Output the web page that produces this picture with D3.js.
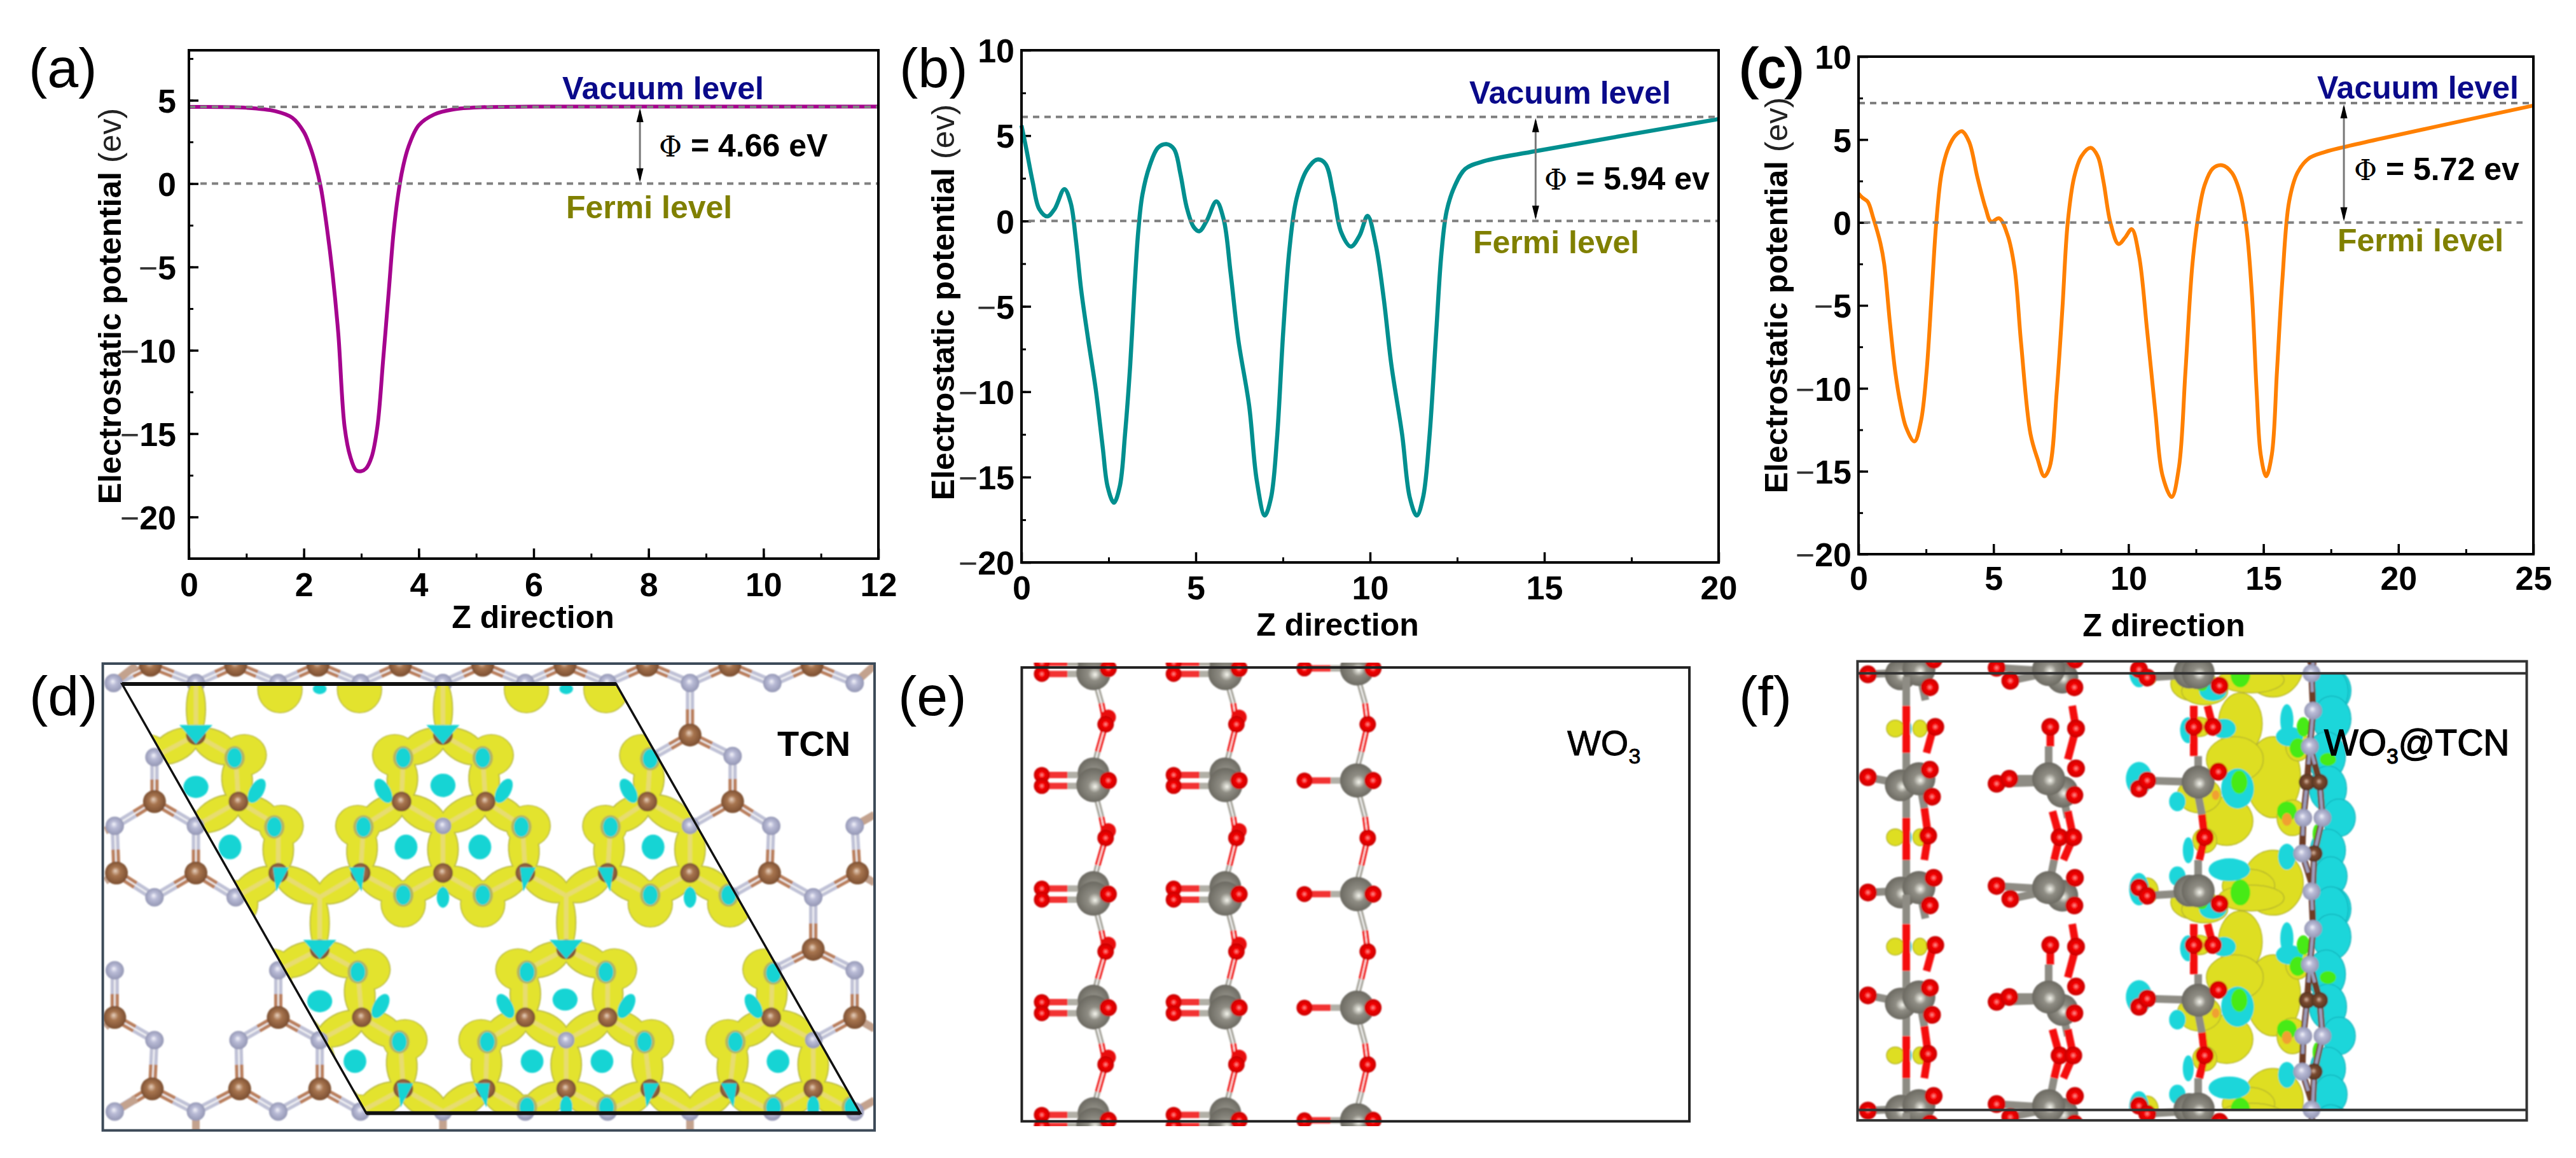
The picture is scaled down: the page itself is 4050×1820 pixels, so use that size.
<!DOCTYPE html>
<html><head><meta charset="utf-8">
<script src="https://cdnjs.cloudflare.com/ajax/libs/d3/7.8.5/d3.min.js"></script>
<style>
html,body{margin:0;padding:0;background:#fff}
svg{display:block}
text{font-family:"Liberation Sans",Arial,sans-serif}
.tick text{font-weight:700;fill:#000}
</style></head><body><svg id="c" width="4050" height="1820"></svg>
<script>
// ---------- curve values ----------
const zA=[0,1,1.5,1.8,2,2.1,2.2,2.3,2.4,2.5,2.6,2.71,2.81,2.91,3,3.08,3.18,3.28,3.38,3.48,3.56,3.64,3.72,3.82,4,4.27,4.6,5.1,6,8,10,12];
const vA=[4.6,4.55,4.35,3.95,3.1,2.3,1.2,-0.3,-2.6,-5.4,-9,-14.6,-16.4,-17.2,-17.25,-17.1,-16.4,-14.6,-10.6,-6.4,-3,-0.7,0.9,2.2,3.5,4.15,4.45,4.58,4.62,4.62,4.62,4.62];
const zB=[0,.14,.32,.51,.74,.95,1.23,1.41,1.56,1.71,1.91,2.13,2.33,2.47,2.65,2.82,2.97,3.12,3.24,3.35,3.47,3.68,3.92,4.16,4.38,4.56,4.74,4.94,5.1,5.31,5.59,5.8,6,6.22,6.53,6.75,6.98,7.16,7.33,7.51,7.69,7.89,8.19,8.49,8.72,8.95,9.17,9.45,9.7,9.93,10.16,10.39,10.61,10.92,11.14,11.34,11.52,11.7,11.9,12.05,12.2,12.43,12.73,13.26,14.78,20];
const vB=[5.6,4.2,2.3,.7,.27,.7,1.87,1.07,-1.1,-4,-6.9,-9.85,-13.25,-15.55,-16.5,-15.55,-12.5,-8.4,-4,-.6,1.55,3.25,4.3,4.5,4.2,2.75,.8,-.35,-.6,0,1.15,.1,-3.05,-6.95,-10.8,-15.2,-17.25,-16.2,-12.75,-6.45,-1.6,1.3,3,3.6,3.35,1.55,-.65,-1.5,-.85,.3,-1.35,-4.5,-8.4,-12.5,-16.2,-17.25,-16.2,-12.75,-6.45,-1.85,.6,2.05,3.05,3.5,4.1,5.97];
const zC=[0,.14,.34,.55,.81,.95,1.16,1.36,1.56,1.76,2.07,2.31,2.52,2.72,2.88,3.08,3.33,3.59,3.83,4.1,4.4,4.71,4.91,5.21,5.52,5.78,6.02,6.37,6.63,6.88,7.08,7.34,7.55,7.75,7.99,8.26,8.6,8.86,9.07,9.33,9.63,9.88,10.12,10.39,10.69,11,11.26,11.6,11.87,12.11,12.37,12.62,12.82,13.12,13.47,13.83,14.14,14.38,14.58,14.75,14.9,15.1,15.31,15.5,15.7,15.95,16.26,16.67,17.28,17.99,25];
const vC=[1.75,1.5,1.25,.25,-1.25,-2.5,-6,-9,-11,-12.35,-13.2,-12,-9,-4,0,3,4.5,5.25,5.5,4.85,2.75,.85,.05,.25,-.75,-2.75,-7.25,-12.75,-14.25,-15.3,-14.75,-10.25,-5.25,0,2.75,4,4.5,4,2.5,0,-1.3,-.9,-.4,-2,-6.5,-11.5,-15.25,-16.55,-14.75,-9,-2.5,.75,2.25,3.25,3.45,3,1.75,-.5,-4.5,-10.25,-14,-15.3,-14,-9,-3.5,1.25,3,3.85,4.25,4.55,7.05];
const xTicksA=[0,2,4,6,8,10,12], xTicksB=[0,5,10,15,20], xTicksC=[0,5,10,15,20,25];
const yTicksA=[5,0,-5,-10,-15,-20], yTicksBC=[10,5,0,-5,-10,-15,-20];
const workFn=["Φ = 4.66 eV","Φ = 5.94 ev","Φ = 5.72 ev"];
const panelLetters=["(a)","(b)","(c)","(d)","(e)","(f)"];
const levelNames=["Vacuum level","Fermi level"];
// ---------- structure tables: positions, in its own image units ----------
const cAtoms=[[265,50],[415,50],[560,50],[705,50],[850,50],[995,50],[1140,50],[1285,50],[1430,50],[345,265],[780,265],[1215,265],[272,470],[420,470],[707,470],[855,470],[1140,470],[1290,470],[205,690],[345,690],[490,690],[635,690],[780,690],[925,690],[1070,690],[1215,690],[1355,690],[1510,690],[563,925],[997,925],[1432,925],[202,1135],[490,1135],[637,1135],[925,1135],[1070,1135],[1358,1135],[1505,1135],[268,1355],[422,1355],[563,1355],[710,1355],[855,1355],[997,1355],[1145,1355],[1285,1355],[1432,1355]];
const nAtoms=[[200,105],[345,105],[490,105],[635,105],[780,105],[925,105],[1070,105],[1215,105],[1360,105],[1505,105],[272,333],[415,335],[710,335],[850,335],[1145,335],[1290,330],[202,545],[345,545],[490,545],[640,545],[780,545],[920,545],[1075,545],[1215,545],[1358,545],[1505,545],[272,765],[415,765],[563,765],[710,760],[850,760],[997,760],[1145,760],[1285,760],[1432,765],[202,990],[490,990],[630,990],[925,990],[1070,990],[1360,990],[1505,990],[272,1205],[420,1205],[563,1205],[705,1205],[858,1205],[997,1205],[1135,1205],[1295,1205],[1432,1205],[202,1425],[345,1425],[490,1425],[635,1425],[780,1425],[925,1425],[1070,1425],[1215,1425],[1360,1425],[1505,1425]];
const stubBonds=[[345,1425,345,1500],[780,1425,780,1500],[1215,1425,1215,1500],[200,105,240,50],[1505,105,1540,50],[202,545,185,560],[1505,545,1540,510],[205,690,185,715],[1510,690,1540,720],[202,1135,185,1165],[1505,1135,1540,1170],[202,1425,240,1385],[1505,1425,1540,1390]];
const cellCorners=[[215,108],[1085,108],[1515,1430],[645,1430]];
const bridgeN=["345,105","780,105","1215,105","563,765","997,760"];
const clusterCentres=[[345,545],[780,545],[1215,545],[563,1205],[997,1205],[1432,1205],[563,-115],[997,-115]];
const lobeOffsets=[[-85,-218,38,62],[85,-218,38,62],[-150,0,38,62],[150,0,38,62],[-70,240,38,70],[70,240,38,70]];
const ringCyan=[[345,425,22,34],[405,610,20,38],[780,420,22,36],[715,610,20,38],[845,610,20,38],[1150,610,20,38],[995,1080,22,34],[563,1085,22,34],[625,1270,20,36],[937,1270,20,36],[1060,1270,20,36],[1370,1270,20,36]];
const nearCyan=[[413,335],[710,335],[850,335],[1145,338],[483,548],[640,548],[918,548],[1075,548],[710,758],[850,758],[1145,758],[1283,758],[630,995],[928,995],[1067,995],[1362,998],[703,1210],[858,1210],[1135,1210],[1295,1210],[928,1412],[1068,1412],[1362,1412],[1500,1412]];
const leafCyan=[[452,437,30],[675,437,-30],[887,437,30],[1107,437,-30],[670,1100,30],[890,1100,-30],[1103,1100,30],[1327,1100,-30]];
const barCyan=[[780,765],[1215,765],[997,1410],[1432,1410]];
const wedgeCyan=[[345,250],[780,250],[563,912],[997,912]];
const sideWedge=[[493,700,1],[630,700,-1],[928,700,1],[1068,700,-1],[712,1365,1],[850,1365,-1],[1145,1365,1],[1285,1365,-1]];
const topCyan=[[563,123,12,16],[997,123,12,16]];
// panel e
const wo3Rows=[60,405,755,1105,1452], wo3Mid=[232,582,932,1280];
const wo3Cols=[[287,385,413,408,true],[537,635,661,656,true],[785,885,915,905,false]];
// panel f: one period, repeated
const fOffsets=[-672,0,672];
const fYellow=[[1015,395,50,125],[955,230,40,95],[945,340,52,70],[930,530,48,75],[1015,720,55,100],[970,730,48,52],[880,450,40,55],[870,780,42,52],[890,130,42,42],[1050,520,28,55],[1060,300,22,45],[325,245,16,26],[370,245,13,26],[325,580,16,26],[370,580,13,26],[770,420,18,30],[785,745,20,40],[880,240,22,30],[890,590,22,38],[975,95,60,40]];
const fCyan=[[950,430,30,62],[770,400,24,52],[935,680,38,35],[860,250,15,40],[925,245,22,30],[860,620,10,40],[1045,270,25,30],[1040,220,12,50],[770,740,18,50],[1040,640,16,40],[840,470,15,30],[840,700,15,30],[905,130,25,30],[347,245,8,25],[347,580,8,25]];
const fGreen=[[953,410,15,36],[1070,240,12,30],[1115,340,15,20],[1060,305,15,30],[955,750,18,40],[885,785,10,15],[885,115,10,15],[1095,570,8,30],[1040,500,18,30]];
const fOrange=[[1040,525,9,20],[880,240,9,15],[910,450,7,15],[885,580,9,15]];
const fBand=[[1120,130,32,70],[1122,215,35,70],[1112,330,35,75],[1115,430,34,70],[1135,520,30,58],[1115,620,32,65],[1120,700,30,60],[1125,800,32,65]];
const fW=[[335,420,true],[368,400,false],[335,750,true],[368,735,false],[630,440,true],[605,400,false],[630,760,true],[605,735,false],[878,410,false],[862,745,true],[878,745,false]];
const fO=[[275,395],[388,372],[392,455],[398,240],[385,575],[275,750],[395,705],[388,790],[510,415],[533,400],[655,368],[652,450],[608,240],[655,245],[625,580],[650,580],[510,730],[535,770],[653,705],[652,790],[770,430],[785,405],[915,378],[770,735],[785,760],[917,785],[870,240],[905,240],[890,580]];
const fRed=[[345,175,345,320],[345,520,345,650],[378,490,385,575],[385,575,378,650],[395,240,382,320],[608,240,608,300],[648,175,655,245],[655,245,640,340],[612,500,625,580],[625,580,615,650],[640,500,650,580],[650,580,632,650],[870,175,870,330],[895,175,905,240],[885,510,890,580],[890,580,880,650]];
const fGrey=[[345,85,345,175],[345,320,345,420],[345,420,345,520],[345,650,345,750],[368,400,378,490],[368,735,380,830],[275,395,335,415],[275,750,335,745],[605,300,605,400],[615,650,605,735],[630,440,640,520],[510,415,605,410],[533,400,605,400],[510,730,605,740],[535,770,605,745],[785,405,878,410],[785,760,878,750],[878,450,885,510],[878,330,878,410],[878,650,878,745]];
const fTcnN=[[1085,75],[1088,190],[1082,300],[1070,520],[1105,520],[1068,630]];
const fTcnC=[[1077,410],[1100,410],[1090,630]];
const fTcnStrand=[[1085,75,1088,190],[1088,190,1082,300],[1082,300,1077,410],[1077,410,1070,520],[1082,300,1100,410],[1100,410,1105,520],[1070,520,1068,630],[1105,520,1090,630],[1068,630,1090,747],[1090,630,1087,747]];

// ---------- page set-up ----------
const svg=d3.select("#c");
const defs=svg.append("defs");
function sphere(id,hi,mid,rim,fx,fy){const g=defs.append("radialGradient").attr("id",id).attr("fx",fx).attr("fy",fy).attr("cx",.5).attr("cy",.5).attr("r",.55);
  g.append("stop").attr("offset",0).attr("stop-color",hi);g.append("stop").attr("offset",.35).attr("stop-color",mid);g.append("stop").attr("offset",1).attr("stop-color",rim);}
sphere("gN","#f4f4fb","#b9bbd6","#8f92b0",.45,.4);
sphere("gC","#e8d2c0","#a8754f","#75492c",.45,.4);
sphere("gW","#f6f6ee","#8f8d84","#66645c",.55,.55);
sphere("gO","#ff9a9a","#f40000","#c00000",.5,.5);
sphere("gC2","#d8b8a4","#7a4a30","#50301e",.45,.45);
defs.append("filter").attr("id","soft").append("feGaussianBlur").attr("stdDeviation",1.3);

const LW=4;
function linePanel(o){
  const g=svg.append("g");
  const x=d3.scaleLinear().domain(o.xd).range([o.L,o.R]);
  const y=d3.scaleLinear().domain(o.yd).range([o.B,o.T]);
  const fmt=v=>String(v).replace("-","\u2212");
  const ax=g.append("g").attr("transform",`translate(0,${o.B})`)
    .call(d3.axisBottom(x).tickValues(o.xt).tickSize(0).tickPadding(0).tickFormat(fmt));
  ax.selectAll("text").attr("dy",null).attr("y",o.xLab-o.B).style("font-size","52px");
  const xMin=o.xt.slice(0,-1).flatMap((v,i)=>[v,(v+o.xt[i+1])/2]).concat([o.xt[o.xt.length-1]]);
  g.append("g").attr("transform",`translate(0,${o.B})`).call(d3.axisTop(x).tickValues(xMin).tickSize(8).tickFormat(""))
   .call(s=>{s.select(".domain").remove();s.selectAll("line").attr("stroke-width",3)});
  g.append("g").attr("transform",`translate(0,${o.B})`).call(d3.axisTop(x).tickValues(o.xt).tickSize(16).tickFormat(""))
   .call(s=>{s.select(".domain").remove();s.selectAll("line").attr("stroke-width",3.5)});
  const ay=g.append("g").attr("transform",`translate(${o.L},0)`)
    .call(d3.axisLeft(y).tickValues(o.yt).tickSize(0).tickPadding(o.L-o.yLab).tickFormat(fmt));
  ay.selectAll("text").style("font-size","52px").attr("dy","0.36em")
    .each(function(){const s=d3.select(this),t=s.text();
      if(t[0]==="\u2212"){s.text(null);s.append("tspan").attr("font-weight",400).attr("fill","#333").text("\u2212");s.append("tspan").text(t.slice(1));}});
  const yMin=d3.range(o.yd[0],o.yd[1]+.01,2.5).filter(v=>v>=o.yd[0]);
  g.append("g").attr("transform",`translate(${o.L},0)`).call(d3.axisRight(y).tickValues(yMin).tickSize(7).tickFormat(""))
   .call(s=>{s.select(".domain").remove();s.selectAll("line").attr("stroke-width",3)});
  g.append("g").attr("transform",`translate(${o.L},0)`).call(d3.axisRight(y).tickValues(o.yt).tickSize(15).tickFormat(""))
   .call(s=>{s.select(".domain").remove();s.selectAll("line").attr("stroke-width",3.5)});
  g.selectAll(".domain").remove();
  const dash=(v,a,b)=>g.append("line").attr("x1",x(a)).attr("x2",x(b)).attr("y1",y(v)).attr("y2",y(v))
    .attr("stroke","#808080").attr("stroke-width",4).attr("stroke-dasharray","10 8");
  const line=d3.line().x((d,i)=>x(o.zs[i])).y(d=>y(d)).curve(d3.curveCatmullRom.alpha(.5));
  g.append("path").datum(o.vs).attr("d",line).attr("fill","none").attr("stroke",o.col).attr("stroke-width",o.w).attr("stroke-linejoin","round");
  dash(o.vac,o.xd[0],o.xd[1]);
  dash(0,o.z0,o.z1);
  g.append("line").attr("x1",x(o.ax)).attr("x2",x(o.ax)).attr("y1",y(o.vac)+6).attr("y2",y(0)-6).attr("stroke","#777").attr("stroke-width",3);
  [[y(o.vac)+2,1],[y(0)-2,-1]].forEach(([p,d])=>g.append("path")
    .attr("d",`M${x(o.ax)},${p} l-5.5,${d*22} h11 z`).attr("fill","#000"));
  g.append("rect").attr("x",o.L).attr("y",o.T).attr("width",o.R-o.L).attr("height",o.B-o.T).attr("fill","none").attr("stroke","#000").attr("stroke-width",LW);
  g.append("text").attr("x",o.zx).attr("y",o.zy).attr("text-anchor","middle").attr("font-weight",700).attr("font-size",50).text("Z direction");
  const yl=g.append("text").attr("transform",`translate(${o.yx},${o.ym}) rotate(-90)`).attr("text-anchor","middle").attr("font-weight",700).attr("font-size",50);
  yl.append("tspan").text("Electrostatic potential ");
  yl.append("tspan").attr("font-weight",400).attr("fill","#222").text("(ev)");
  g.append("text").attr("x",o.vx).attr("y",o.vy).attr("font-weight",700).attr("font-size",50).attr("fill","#0a0a8a").text(levelNames[0]);
  g.append("text").attr("x",o.fx).attr("y",o.fy).attr("font-weight",700).attr("font-size",50).attr("fill","#808000").text(levelNames[1]);
  const w=g.append("text").attr("x",o.px).attr("y",o.py).attr("font-weight",700).attr("font-size",50);
  w.append("tspan").attr("font-family","'DejaVu Serif','Liberation Serif',serif").attr("font-weight",400).attr("font-size",44).text(o.phi[0]);
  w.append("tspan").text(o.phi.slice(1));
}
linePanel({L:297,R:1381,T:79,B:878,xd:[0,12],yd:[-22.5,8],xt:xTicksA,yt:yTicksA,zs:zA,vs:vA,col:"#a5048e",w:6,vac:4.6,z0:.2,z1:12,ax:7.85,
  xLab:937,yLab:277,zx:838,zy:987,yx:190,ym:481,vx:884,vy:156,fx:890,fy:343,px:1036,py:246,phi:workFn[0]});
linePanel({L:1606,R:2702,T:79,B:884,xd:[0,20],yd:[-20,10],xt:xTicksB,yt:yTicksBC,zs:zB,vs:vB,col:"#008f8f",w:6.5,vac:6.1,z0:.2,z1:20,ax:14.75,
  xLab:942,yLab:1595,zx:2103,zy:999,yx:1500,ym:475,vx:2310,vy:163,fx:2316,fy:398,px:2428,py:298,phi:workFn[1]});
linePanel({L:2922,R:3983,T:89,B:871,xd:[0,25],yd:[-20,10],xt:xTicksC,yt:yTicksBC,zs:zC,vs:vC,col:"#ff8000",w:6,vac:7.2,z0:.2,z1:24.6,ax:17.98,
  xLab:927,yLab:2911,zx:3402,zy:1000,yx:2810,ym:464,vx:3643,vy:155,fx:3675,fy:395,px:3701,py:283,phi:workFn[2]});

const letterPos=[[45,137],[1414,137],[2734,137],[46,1124],[1412,1124],[2734,1124]];
panelLetters.forEach((t,i)=>svg.append("text").attr("x",letterPos[i][0]).attr("y",letterPos[i][1]).attr("font-size",88).attr("fill","#000")
  .attr("stroke","#000").attr("stroke-width",i===2?2.5:0).text(t));

// ---------- helpers for structure panels ----------
function frameScales(x0,w){return {sx:d3.scaleLinear().domain([0,1568]).range([x0,x0+w]),sy:d3.scaleLinear().domain([0,1568]).range([1020,1820])};}
function ell(g,s,arr,fill,extra){
  return g.selectAll(null).data(arr).join("ellipse")
   .attr("cx",d=>s.sx(d[0])).attr("cy",d=>s.sy(d[1]))
   .attr("rx",d=>s.sx(d[2])-s.sx(0)).attr("ry",d=>s.sy(d[3])-s.sy(0)).attr("fill",fill)
   .attr("stroke",extra||"none").attr("stroke-width",extra?1.5:0);
}
function clip(id,attrs,tag){const c=defs.append("clipPath").attr("id",id).append(tag||"rect");Object.entries(attrs).forEach(([k,v])=>c.attr(k,v));}
function ball(g,s,arr,r,fill){return g.selectAll(null).data(arr).join("circle").attr("cx",d=>s.sx(d[0])).attr("cy",d=>s.sy(d[1])).attr("r",r).attr("fill",fill);}
function seg(g,s,arr,col,w){return g.selectAll(null).data(arr).join("line").attr("x1",d=>s.sx(d[0])).attr("y1",d=>s.sy(d[1])).attr("x2",d=>s.sx(d[2])).attr("y2",d=>s.sy(d[3])).attr("stroke",col).attr("stroke-width",w);}

// ---------- panel d ----------
(function(){
  const s=frameScales(0,1400);
  const outer={x:s.sx(181),y:s.sy(45),width:s.sx(1540)-s.sx(181),height:s.sy(1483)-s.sy(45)};
  clip("cd",outer);
  const cellPts=cellCorners.map(p=>[s.sx(p[0]),s.sy(p[1])]);
  clip("cell",{points:cellPts.map(p=>p.join(",")).join(" ")},"polygon");
  const g=svg.append("g").attr("clip-path","url(#cd)").append("g").attr("filter","url(#soft)");
  const dist=(a,b)=>Math.hypot(s.sx(a[0])-s.sx(b[0]),s.sy(a[1])-s.sy(b[1]));
  const bonds=[];
  cAtoms.forEach(c=>nAtoms.forEach(n=>{if(dist(c,n)<92)bonds.push({c,n});}));
  const half=(a,b)=>[a[0],a[1],(a[0]+b[0])/2,(a[1]+b[1])/2];
  seg(g,s,bonds.map(b=>half(b.c,b.n)),"#b97f5d",13);
  seg(g,s,bonds.map(b=>half(b.n,b.c)),"#bfc1d6",13);
  seg(g,s,bonds.map(b=>[b.c[0],b.c[1],b.n[0],b.n[1]]),"#f2f2f4",2.5);
  seg(g,s,stubBonds,"#c3a28e",12);
  const a=g.append("g");
  ball(a,s,nAtoms,14.5,"url(#gN)");
  ball(a,s,cAtoms,18,"url(#gC)");
  // density lobes, only inside the cell; the row above the cell carries none
  const inCell=bonds.filter(b=>b.c[1]>60);
  const y=g.append("g").attr("clip-path","url(#cell)");
  const edge=y.append("g");
  const yel=y.append("g");
  const lobes=clusterCentres.flatMap(c=>lobeOffsets.map(l=>[c[0]+l[0],c[1]+l[1],l[2],l[3]]));
  const bondEll=(sel,grow,fill)=>sel.selectAll(null).data(inCell).join("ellipse")
    .attr("transform",d=>{const p=[s.sx(d.c[0]),s.sy(d.c[1])],q=[s.sx(d.n[0]),s.sy(d.n[1])];
      return `translate(${(p[0]+q[0])/2},${(p[1]+q[1])/2}) rotate(${Math.atan2(q[1]-p[1],q[0]-p[0])*180/Math.PI})`;})
    .attr("rx",d=>dist(d.c,d.n)/2+3+grow).attr("ry",d=>{const br=bridgeN.includes(d.n.join(","));return ((br&&Math.abs(d.c[0]-d.n[0])<5)?14:23)+grow;}).attr("fill",fill);
  bondEll(edge,2,"#b9b93c");
  ell(edge,s,lobes.map(l=>[l[0],l[1],l[2]+2,l[3]+3]),"#b9b93c");
  bondEll(yel,0,"#e5e530");
  ell(yel,s,lobes,"#e5e530");
  yel.attr("opacity",.96); edge.attr("opacity",.96);
  seg(y.append("g").attr("opacity",.7),s,inCell.map(b=>[b.c[0],b.c[1],b.n[0],b.n[1]]),"#e9d98a",7);
  // atoms that sit above the density
  const top=g.append("g").attr("clip-path","url(#cell)");
  ball(top,s,clusterCentres,13,"url(#gN)");
  ball(top,s,cAtoms,15.5,"url(#gC)");
  // negative density
  const cy=g.append("g").attr("clip-path","url(#cell)");
  ell(cy,s,ringCyan,"#14d4d4");
  ell(cy,s,topCyan,"#14d4d4");
  ell(cy,s,nearCyan.map(p=>[p[0],p[1],18,36]),"#b5b560");
  ell(cy,s,nearCyan.map(p=>[p[0],p[1],13,30]),"#14d4d4");
  ell(cy,s,barCyan.map(p=>[p[0],p[1],11,32]),"#14d4d4");
  cy.selectAll(null).data(leafCyan).join("ellipse").attr("transform",d=>`translate(${s.sx(d[0])},${s.sy(d[1])}) rotate(${d[2]})`).attr("rx",11).attr("ry",21).attr("fill","#14d4d4");
  cy.selectAll(null).data(wedgeCyan).join("path").attr("transform",d=>`translate(${s.sx(d[0])},${s.sy(d[1])})`).attr("d","M-26,-8 H26 L0,22 Z").attr("fill","#14d4d4");
  cy.selectAll(null).data(sideWedge).join("path").attr("transform",d=>`translate(${s.sx(d[0])},${s.sy(d[1])}) scale(${d[2]},1)`).attr("d","M-11,-14 H14 L-6,24 Z").attr("fill","#14d4d4");
  const f=svg.append("g");
  f.append("polygon").attr("points",cellPts.map(p=>p.join(",")).join(" ")).attr("fill","none").attr("stroke","#111").attr("stroke-width",3.5);
  f.append("line").attr("x1",cellPts[0][0]).attr("x2",cellPts[1][0]).attr("y1",cellPts[0][1]).attr("y2",cellPts[0][1]).attr("stroke","#111").attr("stroke-width",6);
  f.append("line").attr("x1",cellPts[2][0]).attr("x2",cellPts[3][0]).attr("y1",cellPts[2][1]).attr("y2",cellPts[2][1]).attr("stroke","#111").attr("stroke-width",6);
  f.append("rect").attr("x",outer.x).attr("y",outer.y).attr("width",outer.width).attr("height",outer.height).attr("fill","none").attr("stroke","#3c4a58").attr("stroke-width",4);
  f.append("text").attr("x",1222).attr("y",1188).attr("font-size",56).attr("font-weight",700).text("TCN");
})();

// ---------- panel e ----------
(function(){
  const s=frameScales(1400,1300);
  const L=s.sx(249),R=s.sx(1515),T=s.sy(57),B=s.sy(1455);
  clip("ce",{x:L,y:s.sy(42),width:R-L,height:s.sy(1470)-s.sy(42)});
  const g=svg.append("g").attr("clip-path","url(#ce)").append("g").attr("filter","url(#soft)");
  wo3Cols.forEach(([ol,w,orr,m,dbl])=>{
    const rows=wo3Rows, mids=wo3Mid;
    mids.forEach((my,i)=>{
      const y0=rows[i],y1=rows[i+1];
      const parts=[[[w+5,y0+50,w+15,my-65],"#a9a79e"],[[w+15,my-65,m,my],"#f01212"],[[m,my,w+8,my+85],"#f01212"],[[w+8,my+85,w+2,y1-50],"#a9a79e"]];
      parts.forEach(([p,c])=>{seg(g,s,[p],c,9);seg(g,s,[p],"#ffffff",2);});
    });
    rows.forEach(y=>{
      const ys=dbl?[y-17,y+17]:[y];
      ys.forEach(yy=>{seg(g,s,[[ol,yy,(ol+w)/2,yy]],"#f23030",10);seg(g,s,[[(ol+w)/2,yy,w,yy]],"#b1afa6",10);});
    });
    if(dbl) ball(g,s,rows.map(y=>[w,y-22]),25,"url(#gW)");
    ball(g,s,rows.map(y=>[w,y+(dbl?14:0)]),27,"url(#gW)");
    ball(g,s,rows.map(y=>[orr,y]),13.5,"url(#gO)");
    const leftOs=rows.flatMap(y=>dbl?[[ol,y-17],[ol,y+17]]:[[ol,y]]);
    ball(g,s,leftOs,12.5,"url(#gO)");
    if(dbl) ball(g,s,mids.map(y=>[m+5,y-22]),12,"#e81010");
    ball(g,s,mids.map(y=>[m,y]),13,"url(#gO)");
  });
  svg.append("rect").attr("x",L).attr("y",T).attr("width",R-L).attr("height",B-T).attr("fill","none").attr("stroke","#222").attr("stroke-width",4);
  const t=svg.append("text").attr("x",2464).attr("y",1187).attr("font-size",56).attr("stroke","#000").attr("stroke-width",.8).text("WO");
  t.append("tspan").attr("font-size",34).attr("dy",13).text("3");
})();

// ---------- panel f ----------
(function(){
  const s=frameScales(2700,1350);
  const L=s.sx(256),R=s.sx(1478),T=s.sy(38),B=s.sy(1452),iT=s.sy(75),iB=s.sy(1420);
  clip("cf",{x:L,y:T,width:R-L,height:B-T});
  clip("cfi",{x:L,y:iT,width:R-L,height:iB-iT});
  const root=svg.append("g").attr("clip-path","url(#cf)").append("g").attr("filter","url(#soft)");
  const shift=(arr,o)=>arr.map(d=>[d[0],d[1]+o,...d.slice(2)]);
  const shiftSeg=(arr,o)=>arr.map(d=>[d[0],d[1]+o,d[2],d[3]+o]);
  const dens=root.append("g").attr("clip-path","url(#cfi)");
  const offs=fOffsets.concat([1344]);
  offs.forEach(o=>ell(dens,s,shift(fBand,o),"#1cd6da","#14b4bc"));
  offs.forEach(o=>ell(dens,s,shift(fYellow,o),"#dede22","#b4b42c"));
  offs.forEach(o=>{
    ell(dens,s,shift(fCyan,o),"#1cd6da");
    ell(dens,s,shift(fGreen,o),"#46ea14");
    ell(dens,s,shift(fOrange,o),"#f0a030");
  });
  const at=root.append("g");
  offs.forEach(o=>{
    seg(at,s,shiftSeg(fGrey,o),"#8e8c84",12);
    seg(at,s,shiftSeg(fRed,o),"#f41010",12);
    ball(at,s,shift(fW.filter(d=>d[2]),o).map(d=>[d[0],d[1]]),25,"url(#gW)");
    ball(at,s,shift(fW.filter(d=>!d[2]),o).map(d=>[d[0],d[1]]),26,"url(#gW)");
    ball(at,s,shift(fO,o),14,"url(#gO)");
    seg(at,s,shiftSeg(fTcnStrand,o),"#6e3c28",10);
    seg(at,s,shiftSeg(fTcnStrand,o).map((d,i)=>i%2?d:[d[0],d[1],(d[0]+d[2])/2,(d[1]+d[3])/2]),"#9b9dbb",5);
    ball(at,s,shift(fTcnC,o),13,"url(#gC2)");
    ball(at,s,shift(fTcnN,o),14,"url(#gN)");
  });
  const f=svg.append("g").attr("fill","none").attr("stroke","#333");
  f.append("rect").attr("x",L).attr("y",T).attr("width",R-L).attr("height",B-T).attr("stroke-width",4);
  f.selectAll(null).data([iT,iB]).join("line").attr("x1",L).attr("x2",R).attr("y1",d=>d).attr("y2",d=>d).attr("stroke-width",4);
  const t=svg.append("text").attr("x",3654).attr("y",1187).attr("font-size",57).attr("stroke","#000").attr("stroke-width",1.4).text("WO");
  t.append("tspan").attr("font-size",33).attr("dy",13).text("3");
  t.append("tspan").attr("dy",-13).text("@TCN");
})();
</script></body></html>
